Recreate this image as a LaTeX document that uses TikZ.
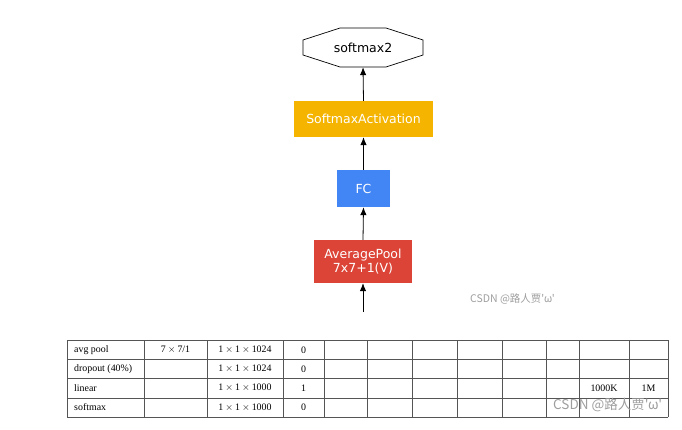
\documentclass[tikz,border=0pt]{standalone}
\usepackage{fontspec}
\setmainfont{Liberation Serif}
\newfontfamily\dv{DejaVu Sans}
\newfontfamily\cjk{Noto Sans CJK SC}
\usetikzlibrary{arrows.meta}
\definecolor{gyellow}{HTML}{F4B400}
\definecolor{gblue}{HTML}{4285F4}
\definecolor{gred}{HTML}{DB4437}
\definecolor{tline}{HTML}{555555}
\newcommand{\tms}{\hspace{0.2em}$\times$\hspace{0.2em}}
\begin{document}
\begin{tikzpicture}[x=1pt,y=-1pt,
  layerbox/.style={rectangle, inner sep=0pt, text=white, font=\dv\fontsize{12.5}{15}\selectfont, align=center},
  conn/.style={-{Latex[length=8pt,width=6.5pt]}, line width=0.8pt},
  tline/.style={draw=tline, line width=0.7pt},
  cell/.style={font=\fontsize{9.9}{11}\selectfont, inner sep=0pt},
  wm/.style={text=black!38, inner sep=0pt}]
\useasboundingbox (0,0) rectangle (682,430);
% octagon output node
\node[font=\dv\fontsize{12.5}{15}\selectfont, minimum width=120pt, minimum height=39pt, inner sep=0pt] (sm2) at (363,47.5) {softmax2};
\draw[line width=0.7pt] (303,40) -- (340,28) -- (386,28) -- (423,40) -- (423,55) -- (386,67) -- (340,67) -- (303,55) -- cycle;
\node[layerbox, fill=gyellow, minimum width=139pt, minimum height=36pt] (act) at (363.5,119) {SoftmaxActivation};
\node[layerbox, fill=gblue, minimum width=53pt, minimum height=37pt] (fc) at (363.5,188.5) {FC};
\node[layerbox, fill=gred, minimum width=98pt, minimum height=43pt] (avg) at (363,261.5) {AveragePool\\[-1pt]7x7+1(V)};
\coordinate (in) at (363,312);
\draw[conn] (in) -- (avg.south);
\draw[conn] (avg.north) -- (fc.south);
\draw[conn] (fc.north) -- (act.south);
\draw[conn] (act.north) -- (sm2.south);
% watermark
\node[wm, anchor=west, font=\cjk\fontsize{10.5}{12}\selectfont] (wm1) at (470,299) {CSDN @路人贾'ω'};
% table
\foreach \yy in {340,359,378,398,417} \draw[tline] (67,\yy) -- (668,\yy);
\foreach \xx in {67,144,207,283,324,367,412,457,502,546,579,629,668} \draw[tline] (\xx,340) -- (\xx,417);
\node[cell, anchor=west] (r1c1) at (74,350) {avg pool};
\node[cell] (r1c2) at (175.5,350) {7\tms7/1};
\node[cell] (r1c3) at (245,350) {1\tms1\tms1024};
\node[cell] (r1c4) at (303.5,350) {0};
\node[cell, anchor=west] (r2c1) at (74,369) {dropout (40\%)};
\node[cell] (r2c3) at (245,369) {1\tms1\tms1024};
\node[cell] (r2c4) at (303.5,369) {0};
\node[cell, anchor=west] (r3c1) at (74,388) {linear};
\node[cell] (r3c3) at (245,388) {1\tms1\tms1000};
\node[cell] (r3c4) at (303.5,388) {1};
\node[cell] (r3c12) at (604,388) {1000K};
\node[cell] (r3c13) at (648.5,388) {1M};
\node[cell, anchor=west] (r4c1) at (74,407.5) {softmax};
\node[cell] (r4c3) at (245,407.5) {1\tms1\tms1000};
\node[cell] (r4c4) at (303.5,407.5) {0};
\node[wm, anchor=west, font=\cjk\fontsize{13.5}{15}\selectfont] (wm2) at (553,405) {CSDN @路人贾'ω'};
\end{tikzpicture}
\end{document}
